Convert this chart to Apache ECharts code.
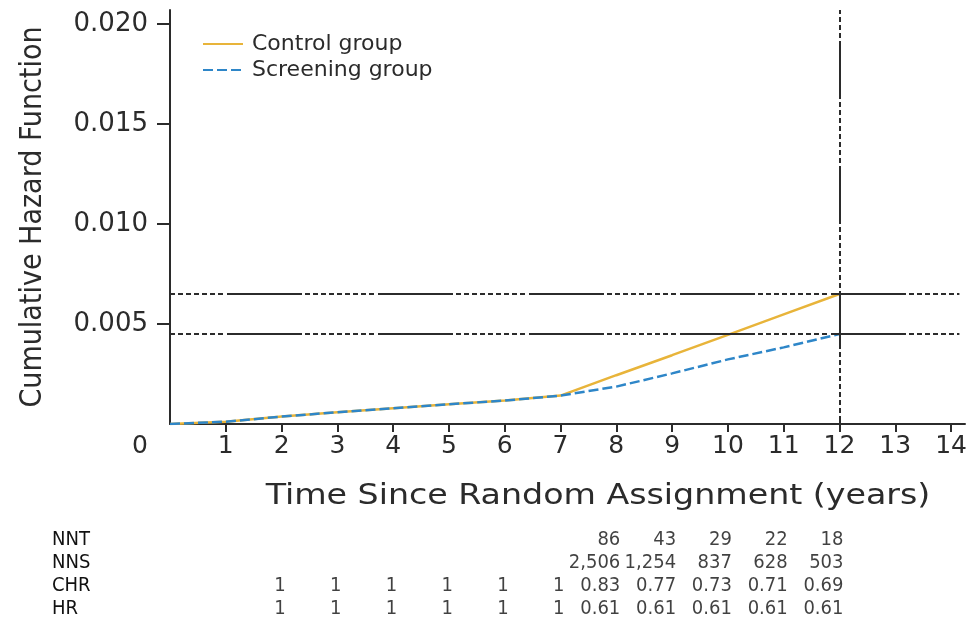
<!DOCTYPE html>
<html>
<head>
<meta charset="utf-8">
<script src="https://cdn.jsdelivr.net/npm/echarts@6/dist/echarts.min.js"></script>
<style>
  html, body { margin: 0; padding: 0; background: #ffffff; }
  #chartBox { width: 968px; height: 623px; }
</style>
</head>
<body>
<div id="chartBox"></div>
<script>
// years on the x axis and the two cumulative hazard curves
const years = [0, 1, 2, 3, 4, 5, 6, 7, 8, 9, 10, 11, 12];
const controlGroup = [0, 0.000115, 0.00037, 0.00059, 0.00079, 0.00099, 0.00117, 0.00142, 0.00244, 0.00344, 0.00446, 0.00548, 0.0065];
const screeningGroup = [0, 0.000115, 0.00037, 0.00059, 0.00079, 0.00099, 0.00117, 0.00142, 0.00187, 0.00253, 0.00323, 0.00383, 0.0045];

// axis ticks
const xTicks = [1, 2, 3, 4, 5, 6, 7, 8, 9, 10, 11, 12, 13, 14];
const xLabels = [0, 1, 2, 3, 4, 5, 6, 7, 8, 9, 10, 11, 12, 13, 14];
const yTicks = [0.005, 0.01, 0.015, 0.02];

// reference lines
const refHazards = [0.0065, 0.0045];
const refYear = 12;

// table under the chart
const tableRows = ["NNT", "NNS", "CHR", "HR"];
const tableYears = [2, 3, 4, 5, 6, 7, 8, 9, 10, 11, 12];
const nntValues = [null, null, null, null, null, null, 86, 43, 29, 22, 18];
const nnsValues = [null, null, null, null, null, null, 2506, 1254, 837, 628, 503];
const chrValues = [1, 1, 1, 1, 1, 1, 0.83, 0.77, 0.73, 0.71, 0.69];
const hrValues = [1, 1, 1, 1, 1, 1, 0.61, 0.61, 0.61, 0.61, 0.61];

const narrow = "'DejaVu Sans Condensed', 'Liberation Sans Narrow', sans-serif";
const wide = "'DejaVu Sans', Verdana, sans-serif";
const ink = "#2b2b2b";

const withCommas = (v) => String(v).replace(/\B(?=(\d{3})+(?!\d))/g, ",");

const tableData = [];
[nntValues, nnsValues, chrValues, hrValues].forEach((row, r) => {
  row.forEach((v, i) => {
    if (v === null) return;
    tableData.push([tableYears[i], tableRows[r], withCommas(v)]);
  });
});

const dotted = [75, 3, 5, 3, 5, 3, 5, 3, 5, 3, 5, 3, 5, 3, 5, 3, 5, 3, 5, 4];
const refLineStyle = { color: ink, width: 2, type: dotted, dashOffset: 94 };

const markLines = refHazards.map((h) => [
  { coord: [0, h], lineStyle: refLineStyle },
  { coord: [14.15, h] },
]);
markLines.push([
  { coord: [refYear, 0.0207], lineStyle: { color: ink, width: 2, type: [58, 3, 5, 3, 5, 3, 5, 3, 5, 3, 5, 3, 5, 3, 5, 3, 5, 3], dashOffset: 94 } },
  { coord: [refYear, 0] },
]);

const option = {
  animation: false,
  backgroundColor: "#ffffff",
  legend: {
    left: 197,
    top: 28,
    orient: "vertical",
    itemWidth: 40,
    itemHeight: 14,
    itemGap: 4,
    data: ["Control group", "Screening group"],
    itemStyle: { opacity: 0 },
    textStyle: { fontFamily: wide, fontSize: 22, color: ink, padding: [0, 0, 0, 4] },
  },
  grid: [
    { left: 170, right: 3, top: 10, bottom: 199, outerBoundsMode: "none" },
    { left: 170, right: 3, top: 528, height: 92, outerBoundsMode: "none" },
  ],
  xAxis: [
    {
      type: "value",
      min: 0,
      max: 14.25,
      interval: 1,
      axisLine: { show: true, lineStyle: { color: ink, width: 2 } },
      axisTick: { show: true, length: 8, customValues: xTicks, lineStyle: { color: ink, width: 2 } },
      splitLine: { show: false },
      axisLabel: {
        margin: 10,
        customValues: xLabels,
        fontFamily: wide,
        fontSize: 25,
        color: ink,
        formatter: (v) => (v === 0 ? "{z|0}" : String(v)),
        rich: { z: { fontFamily: wide, fontSize: 25, color: ink, padding: [0, 60, 0, 0] } },
      },
    },
    { type: "value", gridIndex: 1, min: 0, max: 14.25, show: false },
  ],
  yAxis: [
    {
      type: "value",
      min: 0,
      max: 0.0207,
      interval: 0.005,
      name: "Cumulative Hazard Function",
      nameLocation: "middle",
      nameGap: 122,
      nameTextStyle: { fontFamily: narrow, fontSize: 30, color: ink },
      axisLine: { show: true, lineStyle: { color: ink, width: 2 } },
      axisTick: { show: true, length: 13, customValues: yTicks, lineStyle: { color: ink, width: 2 } },
      splitLine: { show: false },
      axisLabel: {
        margin: 22,
        customValues: yTicks,
        fontFamily: wide,
        fontSize: 26,
        color: ink,
        formatter: (v) => v.toFixed(3),
      },
    },
    {
      type: "category",
      gridIndex: 1,
      inverse: true,
      data: tableRows,
      axisLine: { show: false },
      axisTick: { show: false },
      axisLabel: { interval: 0, align: "left", margin: 118, fontFamily: narrow, fontSize: 20, color: "#111" },
    },
  ],
  graphic: [
    {
      type: "text",
      x: 598,
      y: 497,
      scaleX: 1.32,
      style: {
        text: "Time Since Random Assignment (years)",
        fontFamily: narrow,
        fontSize: 28,
        fill: ink,
        align: "center",
        verticalAlign: "middle",
      },
    },
  ],
  series: [
    {
      name: "Control group",
      type: "line",
      data: years.map((y, i) => [y, controlGroup[i]]),
      symbol: "none",
      color: "#E8B43A",
      lineStyle: { color: "#E8B43A", width: 2.5 },
      markLine: {
        silent: true,
        symbol: "none",
        label: { show: false },
        data: markLines,
      },
      z: 2,
    },
    {
      name: "Screening group",
      type: "line",
      data: years.map((y, i) => [y, screeningGroup[i]]),
      symbol: "none",
      color: "#2E86C8",
      lineStyle: { color: "#2E86C8", width: 2.5, type: [10, 4] },
      z: 3,
    },
    {
      type: "scatter",
      xAxisIndex: 1,
      yAxisIndex: 1,
      symbolSize: 0,
      silent: true,
      data: tableData,
      label: {
        show: true,
        position: "left",
        distance: -4,
        formatter: (p) => p.data[2],
        fontFamily: narrow,
        fontSize: 20,
        color: "#111",
      },
    },
  ],
};

const myChart = echarts.init(document.getElementById("chartBox"));
myChart.setOption(option);
</script>
</body>
</html>
